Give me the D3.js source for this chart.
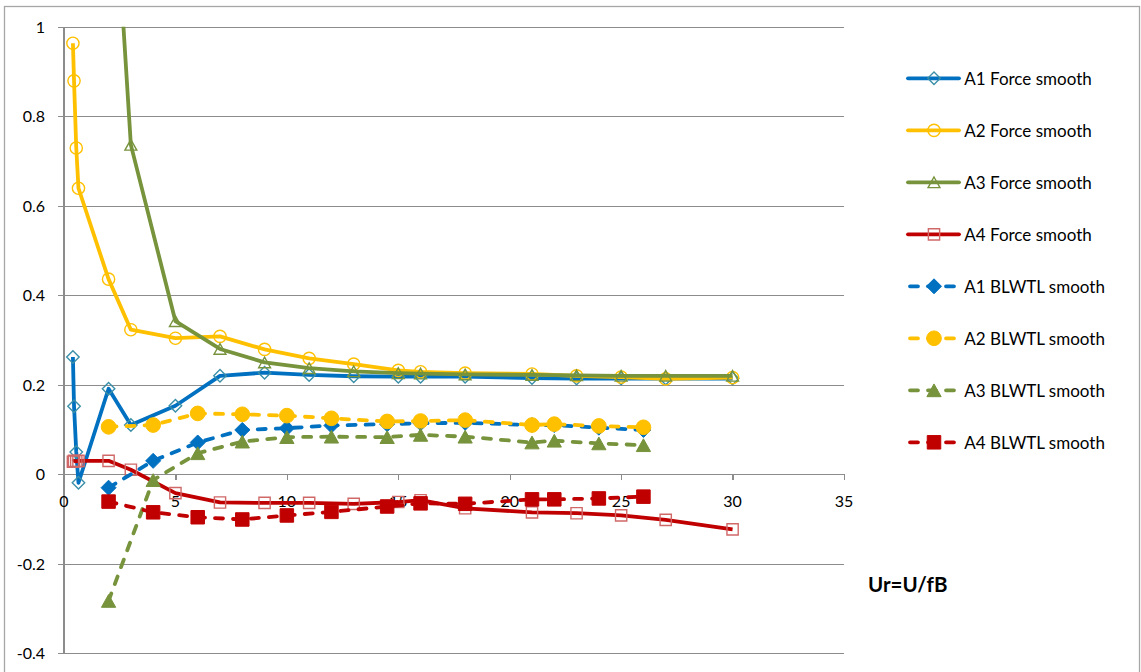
<!DOCTYPE html>
<html>
<head>
<meta charset="utf-8">
<script src="https://cdn.jsdelivr.net/npm/d3@7"></script>
<style>
  body { margin: 0; background: #fff; }
  svg { display: block; }
  text { font-family: Lato, "Noto Sans", sans-serif; fill: #000; }
</style>
</head>
<body>
<svg id="chart" width="1141" height="672"></svg>
<script>
// ---- data -------------------------------------------------------------
const forceUr   = [0.4, 0.45, 0.55, 0.65, 2, 3, 5, 7, 9, 11, 13, 15, 16, 18, 21, 23, 25, 27, 30];
const a1Force   = [0.262, 0.152, 0.05, -0.019, 0.191, 0.110, 0.153, 0.220, 0.227, 0.222, 0.219, 0.218, 0.218, 0.218, 0.215, 0.214, 0.214, 0.214, 0.214];
const a2Force   = [0.963, 0.879, 0.729, 0.639, 0.436, 0.323, 0.304, 0.308, 0.279, 0.259, 0.246, 0.232, 0.229, 0.226, 0.224, 0.220, 0.217, 0.213, 0.216];
const a3ForceUr = [2, 3, 5, 7, 9, 11, 13, 15, 16, 18, 21, 23, 25, 27, 30];
const a3Force   = [1.53, 0.736, 0.342, 0.280, 0.250, 0.237, 0.230, 0.226, 0.225, 0.223, 0.222, 0.221, 0.220, 0.220, 0.220];
const a4Force   = [0.028, 0.030, 0.029, 0.030, 0.030, 0.010, -0.042, -0.063, -0.064, -0.064, -0.066, -0.062, -0.058, -0.076, -0.085, -0.087, -0.092, -0.102, -0.123];

const blwtlUr   = [2, 4, 6, 8, 10, 12, 14.5, 16, 18, 21, 22, 24, 26];
const a1Blwtl   = [-0.030, 0.030, 0.071, 0.099, 0.103, 0.109, 0.112, 0.114, 0.115, 0.110, 0.110, 0.104, 0.099];
const a2Blwtl   = [0.106, 0.110, 0.136, 0.134, 0.131, 0.125, 0.118, 0.119, 0.121, 0.110, 0.112, 0.108, 0.105];
const a3Blwtl   = [-0.283, -0.013, 0.047, 0.073, 0.083, 0.084, 0.083, 0.088, 0.084, 0.071, 0.075, 0.069, 0.065];
const a4Blwtl   = [-0.061, -0.085, -0.096, -0.101, -0.092, -0.084, -0.072, -0.065, -0.066, -0.056, -0.056, -0.054, -0.050];

const seriesNames = ["A1 Force smooth", "A2 Force smooth", "A3 Force smooth", "A4 Force smooth",
                     "A1 BLWTL smooth", "A2 BLWTL smooth", "A3 BLWTL smooth", "A4 BLWTL smooth"];
const xTicks = [0, 5, 10, 15, 20, 25, 30, 35];
const yTicks = [-0.4, -0.2, 0, 0.2, 0.4, 0.6, 0.8, 1];
const yTickLabels = ["-0.4", "-0.2", "0", "0.2", "0.4", "0.6", "0.8", "1"];
const xAxisTitle = "Ur=U/fB";

// ---- styling per series ----------------------------------------------
const lineColors   = ["#0070C0", "#FFC000", "#77933C", "#C00000", "#0070C0", "#FFC000", "#77933C", "#C00000"];
const markerColors = ["#3A8FA8", "#FFC000", "#77933C", "#D06868", "#0070C0", "#FFC000", "#77933C", "#C00000"];
const markerTypes  = ["diamond", "circle", "triangle", "square", "diamond", "circle", "triangle", "square"];

const seriesX = [forceUr, forceUr, a3ForceUr, forceUr, blwtlUr, blwtlUr, blwtlUr, blwtlUr];
const seriesY = [a1Force, a2Force, a3Force, a4Force, a1Blwtl, a2Blwtl, a3Blwtl, a4Blwtl];

const series = seriesNames.map((name, i) => ({
  name,
  points: seriesX[i].map((x, j) => ({ x, y: seriesY[i][j] })),
  color: lineColors[i],
  markerColor: markerColors[i],
  marker: markerTypes[i],
  filled: i >= 4,
  dashed: i >= 4
}));

// ---- layout -----------------------------------------------------------
const svg = d3.select("#chart");
const plot = { left: 64, right: 844, top: 26.7, bottom: 653.3 };

const x = d3.scaleLinear().domain([0, 35]).range([plot.left, plot.right]);
const y = d3.scaleLinear().domain([-0.4, 1]).range([plot.bottom, plot.top]);

// outer chart frame
svg.append("rect")
  .attr("x", 4.5).attr("y", 6.5)
  .attr("width", 1135).attr("height", 680)
  .attr("fill", "none").attr("stroke", "#A6A6A6").attr("stroke-width", 1.3);

// horizontal gridlines with y axis ticks
const yAxis = d3.axisLeft(y)
  .tickValues(yTicks)
  .tickSize(-(plot.right - plot.left))
  .tickSizeOuter(0)
  .tickPadding(0)
  .tickFormat(() => "");

const gy = svg.append("g")
  .attr("transform", `translate(${plot.left},0)`)
  .call(yAxis);
gy.select(".domain").remove();
gy.selectAll(".tick line")
  .attr("x1", -6)
  .attr("stroke", "#8C8C8C").attr("stroke-width", 1)
  .attr("shape-rendering", "crispEdges");

// y tick labels
svg.append("g").selectAll("text")
  .data(yTicks)
  .join("text")
  .attr("x", 45)
  .attr("y", d => y(d) + 2)
  .attr("text-anchor", "end")
  .attr("dominant-baseline", "middle")
  .style("font-size", "16px")
  .text((d, i) => yTickLabels[i]);

// y axis line
svg.append("line")
  .attr("x1", plot.left).attr("x2", plot.left)
  .attr("y1", plot.top).attr("y2", plot.bottom)
  .attr("stroke", "#8C8C8C").attr("stroke-width", 1.3)
  .attr("shape-rendering", "crispEdges");

// x axis at y = 0
const xAxis = d3.axisBottom(x)
  .tickValues(xTicks)
  .tickSize(6)
  .tickSizeOuter(0)
  .tickPadding(0)
  .tickFormat(() => "");
const gx = svg.append("g")
  .attr("transform", `translate(0,${y(0)})`)
  .call(xAxis);
gx.select(".domain").attr("stroke", "#8C8C8C").attr("stroke-width", 1.3).attr("shape-rendering", "crispEdges");
gx.selectAll(".tick line").attr("stroke", "#8C8C8C").attr("stroke-width", 1.3).attr("shape-rendering", "crispEdges");

svg.append("g").selectAll("text")
  .data(xTicks)
  .join("text")
  .attr("x", d => x(d))
  .attr("y", y(0) + 33)
  .attr("text-anchor", "middle")
  .style("font-size", "16px")
  .text(d => d);

// x axis title
svg.append("text")
  .attr("x", 868).attr("y", 592)
  .style("font-size", "20.5px").style("font-weight", "bold")
  .text(xAxisTitle);

// ---- marker shapes (centred on the data point) -------------------------
function markerPath(type, s) {
  const p = d3.path();
  const h = s / 2;
  if (type === "diamond") {
    p.moveTo(0, -h); p.lineTo(h, 0); p.lineTo(0, h); p.lineTo(-h, 0); p.closePath();
  } else if (type === "square") {
    const q = h * 0.9;
    p.rect(-q, -q, 2 * q, 2 * q);
  } else if (type === "triangle") {
    const w = h * 0.95, t = h * 0.85;
    p.moveTo(0, -t); p.lineTo(w, t); p.lineTo(-w, t); p.closePath();
  } else {
    p.arc(0, 0, h * 0.98, 0, 2 * Math.PI);
  }
  return p.toString();
}

function drawMarkers(sel, s, size) {
  sel.append("path")
    .attr("d", markerPath(s.marker, size))
    .attr("fill", s.filled ? s.markerColor : "none")
    .attr("stroke", s.markerColor)
    .attr("stroke-width", s.filled ? 1 : 1.4);
}

// ---- series -----------------------------------------------------------
svg.append("clipPath").attr("id", "plot-clip")
  .append("rect")
  .attr("x", plot.left - 10).attr("y", plot.top)
  .attr("width", plot.right - plot.left + 20)
  .attr("height", plot.bottom - plot.top);

const line = d3.line().x(d => x(d.x)).y(d => y(d.y));
const plotLayer = svg.append("g").attr("clip-path", "url(#plot-clip)");

series.forEach(s => {
  const g = plotLayer.append("g");
  g.append("path")
    .datum(s.points)
    .attr("d", line)
    .attr("fill", "none")
    .attr("stroke", s.color)
    .attr("stroke-width", 3.8)
    .attr("stroke-linejoin", "round")
    .attr("stroke-linecap", s.dashed ? "round" : "butt")
    .attr("stroke-dasharray", s.dashed ? "8,10" : null);

  g.selectAll("g.pt")
    .data(s.points.filter(d => d.y <= 1.02))
    .join("g")
    .attr("class", "pt")
    .attr("transform", d => `translate(${x(d.x)},${y(d.y)})`)
    .each(function () { drawMarkers(d3.select(this), s, s.filled ? 15 : 12.5); });
});

// ---- legend -----------------------------------------------------------
const legend = svg.append("g").attr("transform", "translate(908,78.3)");
const legendRow = legend.selectAll("g")
  .data(series)
  .join("g")
  .attr("transform", (d, i) => `translate(0,${i * 52})`);

legendRow.append("line")
  .attr("x1", d => d.dashed ? 2 : 0).attr("x2", 51)
  .attr("stroke", d => d.color)
  .attr("stroke-width", 3.8)
  .attr("stroke-linecap", "round")
  .attr("stroke-dasharray", d => d.dashed ? "8,10" : null);

legendRow.each(function (d) {
  const m = d3.select(this).append("g").attr("transform", "translate(26,0)");
  drawMarkers(m, d, d.filled ? 15 : 12.5);
});

legendRow.append("text")
  .attr("x", 56.3)
  .attr("y", 0)
  .attr("dominant-baseline", "central")
  .style("font-size", "17px")
  .text(d => d.name);
</script>
</body>
</html>
